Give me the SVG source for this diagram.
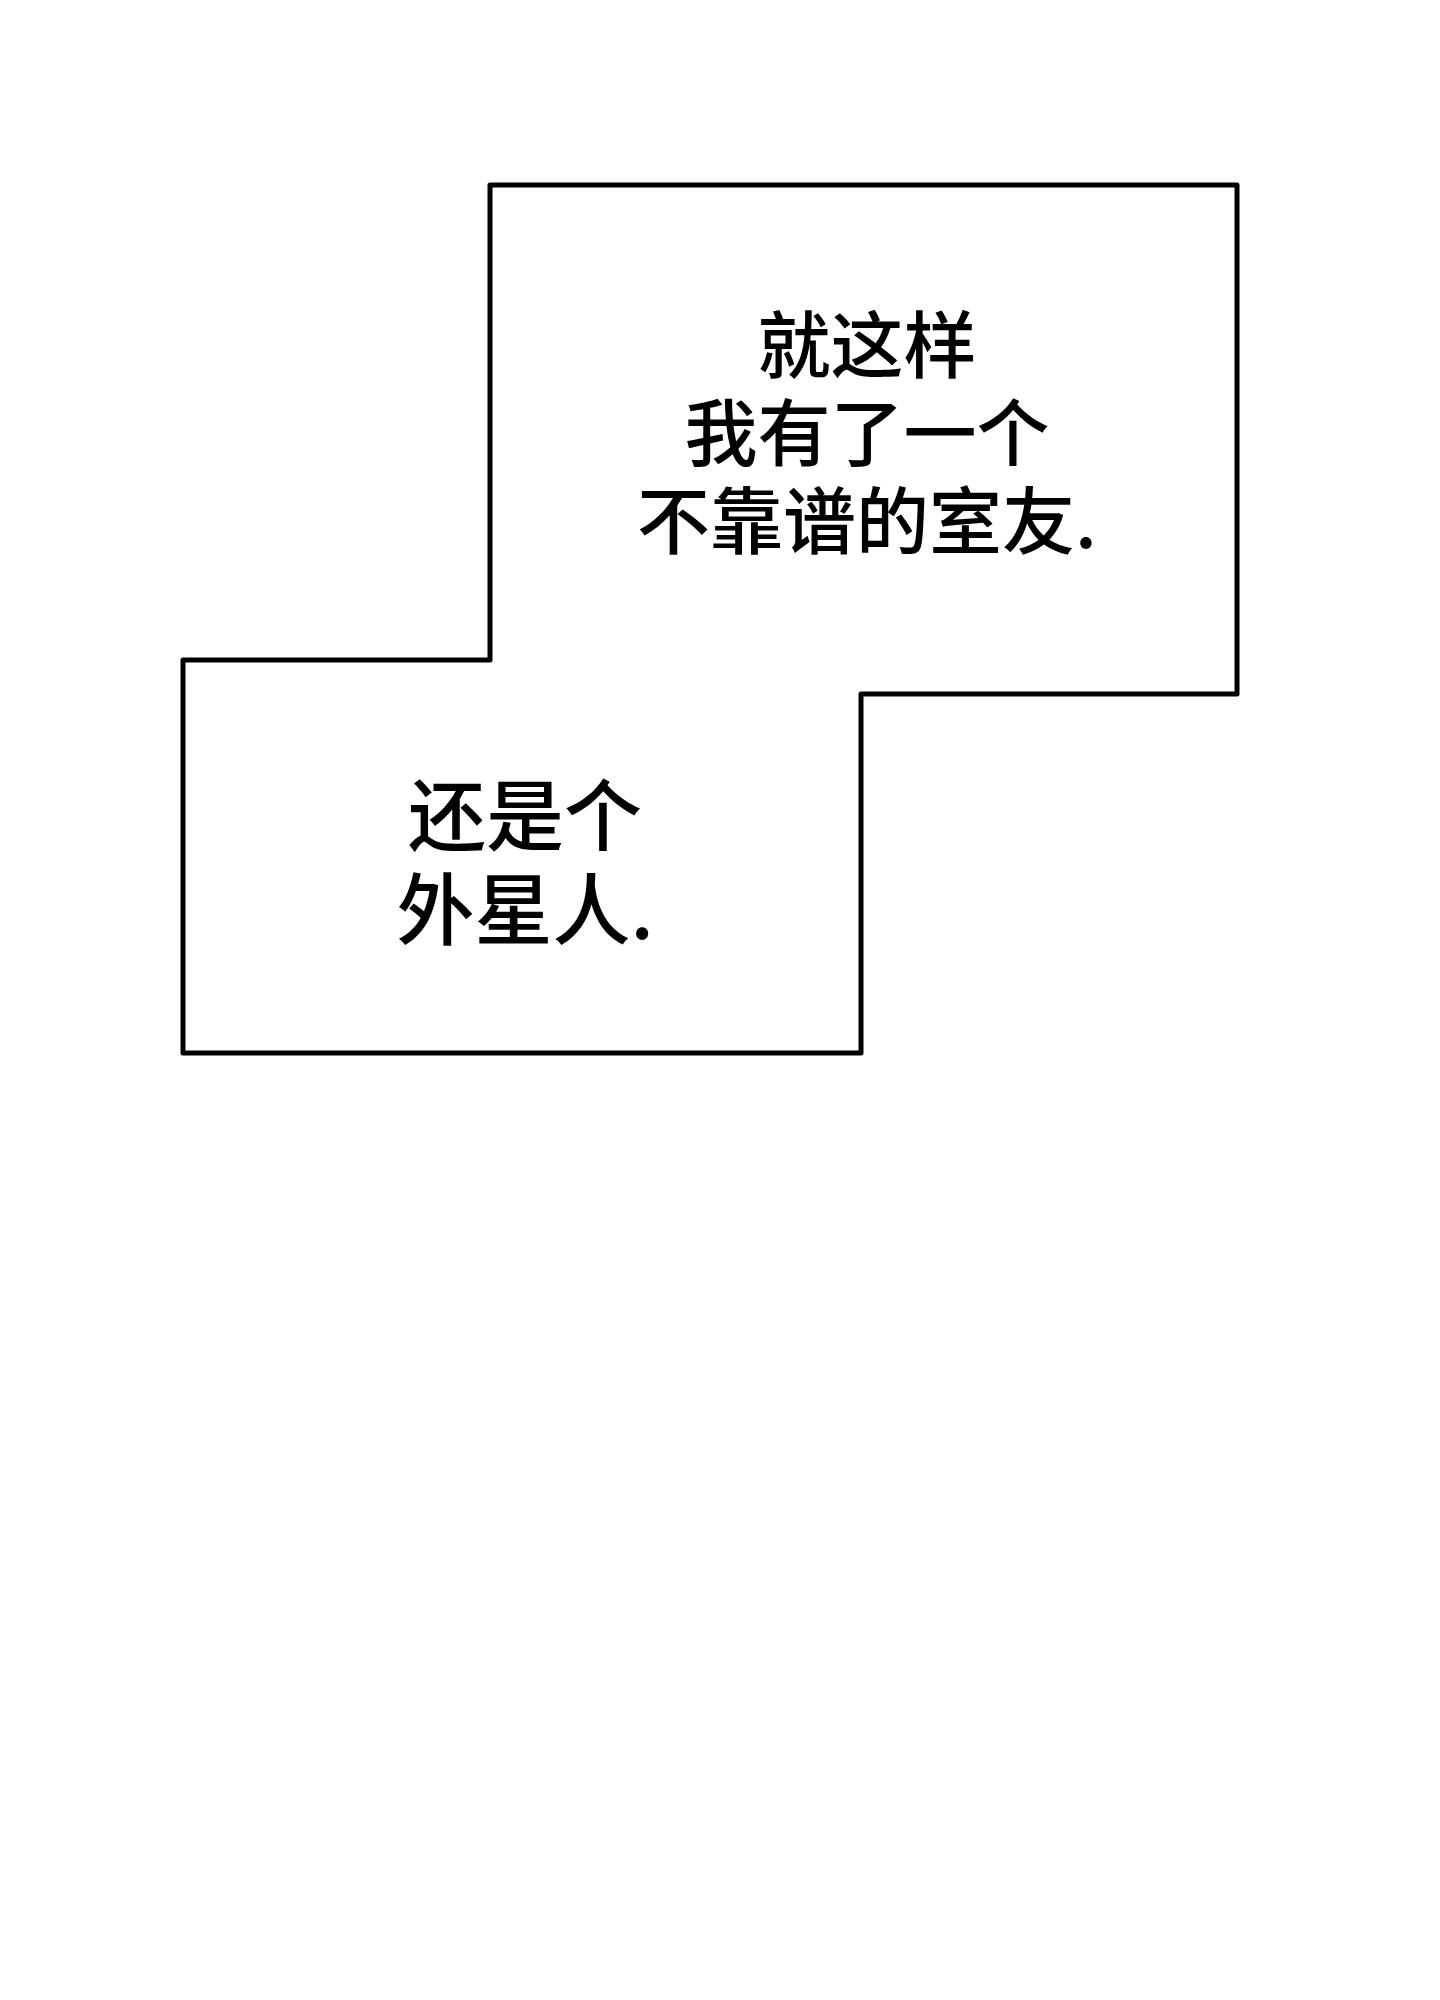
<svg xmlns="http://www.w3.org/2000/svg" width="1440" height="2000" viewBox="0 0 1440 2000">
<style>
.frame{fill:#fff;stroke:#000;stroke-width:5;stroke-linejoin:round}
.t{font-family:"Noto Sans CJK SC","Noto Sans CJK TC",sans-serif;font-weight:500;fill:#000;text-anchor:middle}
</style>
<rect width="1440" height="2000" fill="#fff"/>
<g id="panel">
<path class="frame" d="M490,185 L1237,185 L1237,694 L861,694 L861,1053 L183,1053 L183,660 L490,660 Z"/>
</g>
<g id="text-top">
<text class="t" font-size="73" x="867" y="372">就这样</text>
<text class="t" font-size="73" x="867" y="460">我有了一个</text>
<text class="t" font-size="73" x="867" y="548">不靠谱的室友.</text>
</g>
<g id="text-bottom">
<text class="t" font-size="78" x="525" y="845">还是个</text>
<text class="t" font-size="78" x="525" y="939">外星人.</text>
</g>
<g id="connectors"/>
</svg>
